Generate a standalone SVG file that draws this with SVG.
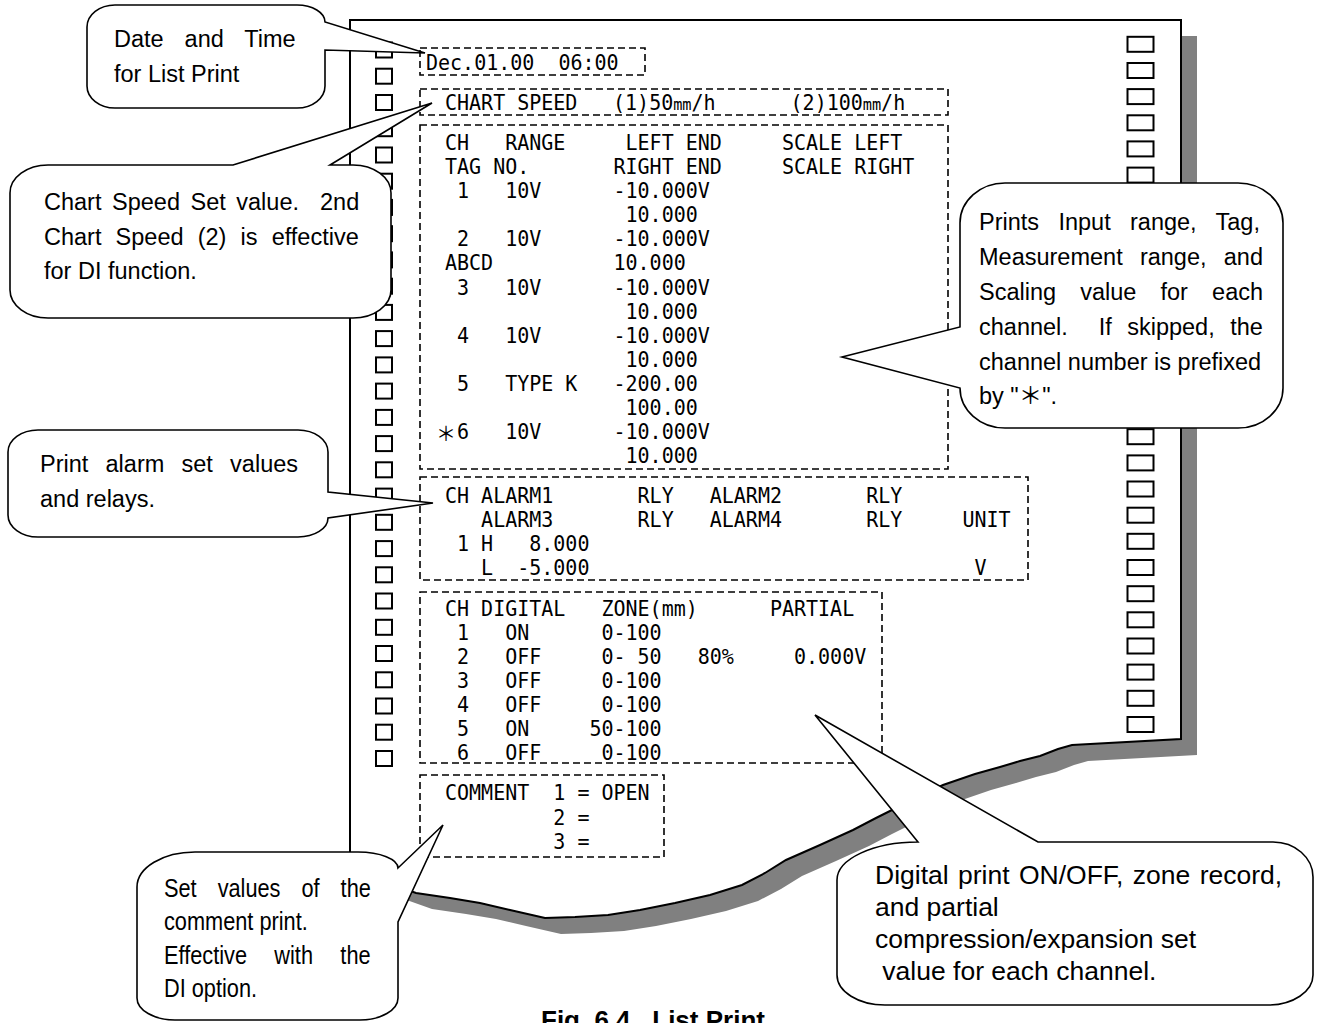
<svg xmlns="http://www.w3.org/2000/svg" xmlns:xlink="http://www.w3.org/1999/xlink" width="1334" height="1023" viewBox="0 0 1334 1023">
<style>
.paper{fill:#fff;stroke:#000;stroke-width:2}
.shadow{fill:#808080}
.hole{fill:#fff;stroke:#000;stroke-width:2}
.box{fill:none;stroke:#000;stroke-width:1.6;stroke-dasharray:7 4}
.m{font-family:"DejaVu Sans Mono","Liberation Mono",monospace;font-size:21px;fill:#000;white-space:pre}
.mm{font-size:16px}
.co{fill:#fff;stroke:#000;stroke-width:1.6;stroke-linejoin:miter}
.ct{font-family:"Liberation Sans",Arial,"Noto Sans CJK JP",sans-serif;font-size:23.5px;fill:#000;white-space:pre}
.cn{font-family:"Liberation Sans",Arial,sans-serif;font-size:25px;fill:#000;white-space:pre}
.cap{font-family:"Liberation Sans",Arial,sans-serif;font-size:26px;font-weight:bold;fill:#000;white-space:pre}
</style>
<defs>
<rect id="hl" class="hole" width="16" height="15"/>
<rect id="hr" class="hole" width="26" height="15"/>
</defs>

<g id="paper">
<path class="shadow" transform="translate(16,16)" d="M350,20 H1181 V739 L1072,745 L1058,749 L1040,756 L1020,761 L1000,767 L975,774 L943,785 L920,796 L898,807 L876,818 L853,830 L820,845 L786,860 L765,873 L742,885 L710,895 L675,903 L640,910 L608,915 L575,917 L545,918 L510,910 L480,903 L450,898 L416,893 L385,882 L350,868 Z"/>
<path class="paper" d="M350,20 H1181 V739 L1072,745 L1058,749 L1040,756 L1020,761 L1000,767 L975,774 L943,785 L920,796 L898,807 L876,818 L853,830 L820,845 L786,860 L765,873 L742,885 L710,895 L675,903 L640,910 L608,915 L575,917 L545,918 L510,910 L480,903 L450,898 L416,893 L385,882 L350,868 Z"/>
</g>

<g id="holes-left">
<use href="#hl" x="376" y="42.5"/><use href="#hl" x="376" y="68.7"/><use href="#hl" x="376" y="95"/><use href="#hl" x="376" y="121.2"/>
<use href="#hl" x="376" y="147.5"/><use href="#hl" x="376" y="173.7"/><use href="#hl" x="376" y="199.9"/><use href="#hl" x="376" y="226.2"/>
<use href="#hl" x="376" y="252.4"/><use href="#hl" x="376" y="278.7"/><use href="#hl" x="376" y="304.9"/><use href="#hl" x="376" y="331.1"/>
<use href="#hl" x="376" y="357.4"/><use href="#hl" x="376" y="383.6"/><use href="#hl" x="376" y="409.9"/><use href="#hl" x="376" y="436.1"/>
<use href="#hl" x="376" y="462.3"/><use href="#hl" x="376" y="488.6"/><use href="#hl" x="376" y="514.8"/><use href="#hl" x="376" y="541.1"/>
<use href="#hl" x="376" y="567.3"/><use href="#hl" x="376" y="593.5"/><use href="#hl" x="376" y="619.8"/><use href="#hl" x="376" y="646"/>
<use href="#hl" x="376" y="672.3"/><use href="#hl" x="376" y="698.5"/><use href="#hl" x="376" y="724.7"/><use href="#hl" x="376" y="751"/>
</g>
<g id="holes-right">
<use href="#hr" x="1127.5" y="36.8"/><use href="#hr" x="1127.5" y="63"/><use href="#hr" x="1127.5" y="89.1"/><use href="#hr" x="1127.5" y="115.3"/>
<use href="#hr" x="1127.5" y="141.4"/><use href="#hr" x="1127.5" y="167.6"/><use href="#hr" x="1127.5" y="193.8"/><use href="#hr" x="1127.5" y="219.9"/>
<use href="#hr" x="1127.5" y="246.1"/><use href="#hr" x="1127.5" y="272.2"/><use href="#hr" x="1127.5" y="298.4"/><use href="#hr" x="1127.5" y="324.6"/>
<use href="#hr" x="1127.5" y="350.7"/><use href="#hr" x="1127.5" y="376.9"/><use href="#hr" x="1127.5" y="403"/><use href="#hr" x="1127.5" y="429.2"/>
<use href="#hr" x="1127.5" y="455.4"/><use href="#hr" x="1127.5" y="481.5"/><use href="#hr" x="1127.5" y="507.7"/><use href="#hr" x="1127.5" y="533.8"/>
<use href="#hr" x="1127.5" y="560"/><use href="#hr" x="1127.5" y="586.2"/><use href="#hr" x="1127.5" y="612.3"/><use href="#hr" x="1127.5" y="638.5"/>
<use href="#hr" x="1127.5" y="664.6"/><use href="#hr" x="1127.5" y="690.8"/><use href="#hr" x="1127.5" y="717"/>
</g>

<g id="date-box">
<rect class="box" x="420" y="48" width="225" height="27"/>
<g transform="translate(426 0) scale(0.952 1)">
<text class="m" x="0" y="70" xml:space="preserve">Dec.01.00  06:00</text>
</g>
</g>

<g id="speed-box">
<rect class="box" x="420" y="89" width="528" height="26"/>
<g transform="translate(445 0) scale(0.952 1)">
<text class="m" x="0" y="110" xml:space="preserve">CHART SPEED</text>
<text class="m" x="176.5" y="110">(1)50<tspan class="mm">mm</tspan>/h</text>
<text class="m" x="363" y="110">(2)100<tspan class="mm">mm</tspan>/h</text>
</g>
</g>

<g id="range-box">
<rect class="box" x="420" y="125" width="528" height="344"/>
<g transform="translate(445 0) scale(0.952 1)">
<text class="m" x="0" y="150" xml:space="preserve">CH   RANGE     LEFT END     SCALE LEFT</text>
<text class="m" x="0" y="174" xml:space="preserve">TAG NO.       RIGHT END     SCALE RIGHT</text>
<text class="m" x="0" y="198" xml:space="preserve"> 1   10V      -10.000V</text>
<text class="m" x="0" y="222" xml:space="preserve">               10.000</text>
<text class="m" x="0" y="246" xml:space="preserve"> 2   10V      -10.000V</text>
<text class="m" x="0" y="270" xml:space="preserve">ABCD          10.000</text>
<text class="m" x="0" y="295" xml:space="preserve"> 3   10V      -10.000V</text>
<text class="m" x="0" y="319" xml:space="preserve">               10.000</text>
<text class="m" x="0" y="343" xml:space="preserve"> 4   10V      -10.000V</text>
<text class="m" x="0" y="367" xml:space="preserve">               10.000</text>
<text class="m" x="0" y="391" xml:space="preserve"> 5   TYPE K   -200.00</text>
<text class="m" x="0" y="415" xml:space="preserve">               100.00</text>
<text class="m" x="12.65" y="439" xml:space="preserve">6   10V      -10.000V</text>
<text class="m" x="0" y="463" xml:space="preserve">               10.000</text>
</g>
<text x="436" y="441" style="font-family:'Noto Sans CJK JP',sans-serif;font-size:20px">＊</text>
</g>

<g id="alarm-box">
<rect class="box" x="420" y="477" width="608" height="103"/>
<g transform="translate(445 0) scale(0.952 1)">
<text class="m" x="0" y="503" xml:space="preserve">CH ALARM1       RLY   ALARM2       RLY</text>
<text class="m" x="0" y="527" xml:space="preserve">   ALARM3       RLY   ALARM4       RLY     UNIT</text>
<text class="m" x="0" y="551" xml:space="preserve"> 1 H   8.000</text>
<text class="m" x="0" y="575" xml:space="preserve">   L  -5.000                                V</text>
</g>
</g>

<g id="digital-box">
<rect class="box" x="420" y="592" width="462" height="171"/>
<g transform="translate(445 0) scale(0.952 1)">
<text class="m" x="0" y="616" xml:space="preserve">CH DIGITAL   ZONE(mm)      PARTIAL</text>
<text class="m" x="0" y="640" xml:space="preserve"> 1   ON      0-100</text>
<text class="m" x="0" y="664" xml:space="preserve"> 2   OFF     0- 50   80%     0.000V</text>
<text class="m" x="0" y="688" xml:space="preserve"> 3   OFF     0-100</text>
<text class="m" x="0" y="712" xml:space="preserve"> 4   OFF     0-100</text>
<text class="m" x="0" y="736" xml:space="preserve"> 5   ON     50-100</text>
<text class="m" x="0" y="760" xml:space="preserve"> 6   OFF     0-100</text>
</g>
</g>

<g id="comment-box">
<rect class="box" x="420" y="775" width="244" height="82"/>
<g transform="translate(445 0) scale(0.952 1)">
<text class="m" x="0" y="800" xml:space="preserve">COMMENT  1 = OPEN</text>
<text class="m" x="0" y="825" xml:space="preserve">         2 =</text>
<text class="m" x="0" y="849" xml:space="preserve">         3 =</text>
</g>
</g>

<g id="callout-date">
<path class="co" d="M115,5 H297 A28,17 0 0 1 325,22 L425,53 L325,50 V86 A28,22 0 0 1 297,108 H115 A28,22 0 0 1 87,86 V27 A28,22 0 0 1 115,5 Z"/>
<text class="ct" x="114" y="47" style="word-spacing:14.4px">Date and Time</text>
<text class="ct" x="114" y="82">for List Print</text>
</g>

<g id="callout-speed">
<path class="co" d="M48,165 H233 L432,103 L330,165 H353 A38,28 0 0 1 391,193 V290 A38,28 0 0 1 353,318 H48 A38,28 0 0 1 10,290 V193 A38,28 0 0 1 48,165 Z"/>
<text class="ct" x="44" y="210" xml:space="preserve" style="word-spacing:4px">Chart Speed Set value.  2nd</text>
<text class="ct" x="44" y="245" style="word-spacing:7.6px">Chart Speed (2) is effective</text>
<text class="ct" x="44" y="279">for DI function.</text>
</g>

<g id="callout-alarm">
<path class="co" d="M38,430 H298 A30,22 0 0 1 328,452 V492 L433,503 L328,518 A30,19 0 0 1 298,537 H38 A30,22 0 0 1 8,515 V452 A30,22 0 0 1 38,430 Z"/>
<text class="ct" x="40" y="472" style="word-spacing:10.7px">Print alarm set values</text>
<text class="ct" x="40" y="507">and relays.</text>
</g>

<g id="callout-range">
<path class="co" d="M1005,183 H1238 A45,40 0 0 1 1283,223 V388 A45,40 0 0 1 1238,428 H1005 A45,40 0 0 1 960,388 L842,357 L960,327 V223 A45,40 0 0 1 1005,183 Z"/>
<text class="ct" x="979" y="230" style="word-spacing:12.8px">Prints Input range, Tag,</text>
<text class="ct" x="979" y="265" style="word-spacing:10.7px">Measurement range, and</text>
<text class="ct" x="979" y="300" style="word-spacing:17.6px">Scaling value for each</text>
<text class="ct" x="979" y="335" xml:space="preserve" style="word-spacing:8.9px">channel.  If skipped, the</text>
<text class="ct" x="979" y="370">channel number is prefixed</text>
<text class="ct" x="979" y="404">by "＊".</text>
</g>

<g id="callout-comment">
<path class="co" d="M195,852 H358 A40,16 0 0 1 398,868 L443,825 L398,922 V998 A38,22 0 0 1 360,1020 H175 A38,22 0 0 1 137,998 V887 A58,35 0 0 1 195,852 Z"/>
<g transform="translate(164 0) scale(0.87 1)">
<text class="cn" x="0" y="897" style="word-spacing:17.2px">Set values of the</text>
<text class="cn" x="0" y="930">comment print.</text>
<text class="cn" x="0" y="964" style="word-spacing:24.5px">Effective with the</text>
<text class="cn" x="0" y="997">DI option.</text>
</g>
</g>

<g id="callout-digital">
<path class="co" d="M918,842 L815,715 L1038,842 H1273 A40,35 0 0 1 1313,877 V975 A45,30 0 0 1 1268,1005 H885 A48,30 0 0 1 837,975 V880 A81,38 0 0 1 918,842 Z"/>
<text class="ct" x="875" y="884" style="font-size:26.5px;word-spacing:2px">Digital print ON/OFF, zone record,</text>
<text class="ct" x="875" y="916" style="font-size:26.5px">and partial</text>
<text class="ct" x="875" y="948" style="font-size:26.5px">compression/expansion set</text>
<text class="ct" x="875" y="980" xml:space="preserve" style="font-size:26.5px"> value for each channel.</text>
</g>

<text class="cap" x="541" y="1029" xml:space="preserve">Fig. 6.4   List Print</text>
</svg>
